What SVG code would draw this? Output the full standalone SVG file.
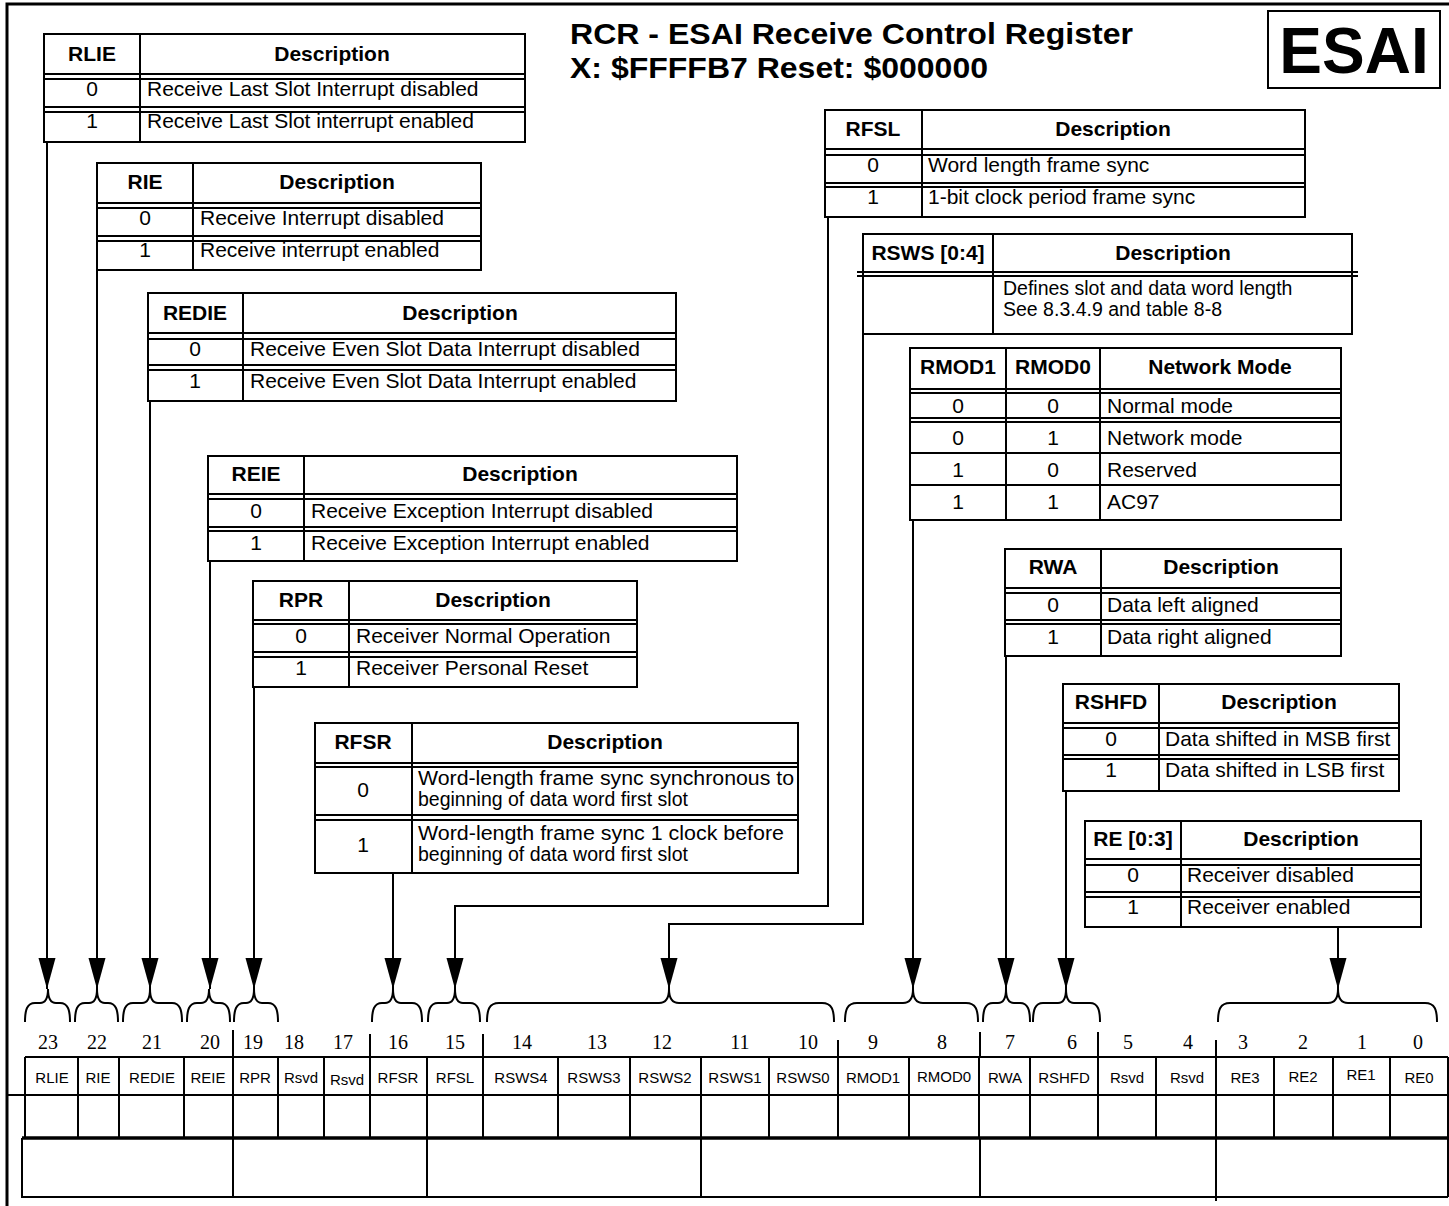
<svg xmlns="http://www.w3.org/2000/svg" width="1449" height="1206" viewBox="0 0 1449 1206">
<style>
.ln{fill:none;stroke:#000;stroke-width:2}
.fr{fill:none;stroke:#000;stroke-width:3}
.hd{font-family:"Liberation Sans",Arial,sans-serif;font-weight:bold;font-size:21px;fill:#000;text-anchor:middle}
.c{font-family:"Liberation Sans",Arial,sans-serif;font-size:21px;fill:#000;text-anchor:middle}
.tx{font-family:"Liberation Sans",Arial,sans-serif;font-size:21px;fill:#000}
.t2{font-family:"Liberation Sans",Arial,sans-serif;font-size:19.5px;fill:#000}
.nm{font-family:"Liberation Sans",Arial,sans-serif;font-size:15px;fill:#000;text-anchor:middle}
.bn{font-family:"Liberation Serif","Times New Roman",serif;font-size:20px;fill:#000;text-anchor:middle}
.ttl{font-family:"Liberation Sans",Arial,sans-serif;font-weight:bold;font-size:30px;fill:#000}
</style>
<defs>
<marker id="ah" markerUnits="userSpaceOnUse" markerWidth="32" markerHeight="20" viewBox="0 -9 32 18" refX="31" refY="0" orient="auto">
<path d="M0,-8.5L31,0L0,8.5z" fill="#000"/>
</marker>
</defs>
<rect width="1449" height="1206" fill="#fff"/>
<g id="frame">
<path class="fr" d="M7,1206V4H1449"/>
</g>
<g id="title">
<text class="ttl" x="570" y="44" textLength="563" lengthAdjust="spacingAndGlyphs">RCR - ESAI Receive Control Register</text>
<text class="ttl" x="570" y="78" textLength="418" lengthAdjust="spacingAndGlyphs">X: $FFFFB7 Reset: $000000</text>
</g>
<g id="esai">
<rect x="1268" y="11" width="172" height="77" class="ln"/>
<text x="1354" y="73" text-anchor="middle" font-family="Liberation Sans, Arial, sans-serif" font-weight="bold" font-size="64">ESAI</text>
</g>

<g id="tbl-rlie">
<rect x="44" y="34" width="481" height="108" class="ln"/>
<path class="ln" d="M44,74H525M44,79H525M44,107H525M44,112H525M140,34V142"/>
<text class="hd" x="92" y="61">RLIE</text><text class="hd" x="332" y="61">Description</text>
<text class="c" x="92" y="96">0</text><text class="tx" x="147" y="96">Receive Last Slot Interrupt disabled</text>
<text class="c" x="92" y="128">1</text><text class="tx" x="147" y="128">Receive Last Slot interrupt enabled</text>
</g>
<g id="tbl-rie">
<rect x="97" y="163" width="384" height="107" class="ln"/>
<path class="ln" d="M97,203H481M97,208H481M97,236H481M97,241H481M193,163V270"/>
<text class="hd" x="145" y="189">RIE</text><text class="hd" x="337" y="189">Description</text>
<text class="c" x="145" y="225">0</text><text class="tx" x="200" y="225">Receive Interrupt disabled</text>
<text class="c" x="145" y="257">1</text><text class="tx" x="200" y="257">Receive interrupt enabled</text>
</g>
<g id="tbl-redie">
<rect x="148" y="293" width="528" height="108" class="ln"/>
<path class="ln" d="M148,333H676M148,339H676M148,365H676M148,370H676M243,293V401"/>
<text class="hd" x="195" y="320">REDIE</text><text class="hd" x="460" y="320">Description</text>
<text class="c" x="195" y="356">0</text><text class="tx" x="250" y="356">Receive Even Slot Data Interrupt disabled</text>
<text class="c" x="195" y="388">1</text><text class="tx" x="250" y="388">Receive Even Slot Data Interrupt enabled</text>
</g>
<g id="tbl-reie">
<rect x="208" y="456" width="529" height="105" class="ln"/>
<path class="ln" d="M208,494H737M208,499H737M208,527H737M208,531H737M304,456V561"/>
<text class="hd" x="256" y="481">REIE</text><text class="hd" x="520" y="481">Description</text>
<text class="c" x="256" y="518">0</text><text class="tx" x="311" y="518">Receive Exception Interrupt disabled</text>
<text class="c" x="256" y="550">1</text><text class="tx" x="311" y="550">Receive Exception Interrupt enabled</text>
</g>
<g id="tbl-rpr">
<rect x="253" y="581" width="384" height="106" class="ln"/>
<path class="ln" d="M253,620H637M253,624H637M253,652H637M253,657H637M349,581V687"/>
<text class="hd" x="301" y="607">RPR</text><text class="hd" x="493" y="607">Description</text>
<text class="c" x="301" y="643">0</text><text class="tx" x="356" y="643">Receiver Normal Operation</text>
<text class="c" x="301" y="675">1</text><text class="tx" x="356" y="675">Receiver Personal Reset</text>
</g>
<g id="tbl-rfsr">
<rect x="315" y="723" width="483" height="150" class="ln"/>
<path class="ln" d="M315,763H798M315,767H798M315,815H798M315,820H798M412,723V873"/>
<text class="hd" x="363" y="749">RFSR</text><text class="hd" x="605" y="749">Description</text>
<text class="c" x="363" y="797">0</text>
<text class="t2" x="418" y="785" textLength="376" lengthAdjust="spacingAndGlyphs">Word-length frame sync synchronous to</text>
<text class="t2" x="418" y="806">beginning of data word first slot</text>
<text class="c" x="363" y="852">1</text>
<text class="t2" x="418" y="840" textLength="366" lengthAdjust="spacingAndGlyphs">Word-length frame sync 1 clock before</text>
<text class="t2" x="418" y="861">beginning of data word first slot</text>
</g>
<g id="tbl-rfsl">
<rect x="825" y="110" width="480" height="107" class="ln"/>
<path class="ln" d="M825,149H1305M825,155H1305M825,183H1305M825,187H1305M922,110V217"/>
<text class="hd" x="873" y="136">RFSL</text><text class="hd" x="1113" y="136">Description</text>
<text class="c" x="873" y="172">0</text><text class="tx" x="928" y="172">Word length frame sync</text>
<text class="c" x="873" y="204">1</text><text class="tx" x="928" y="204">1-bit clock period frame sync</text>
</g>
<g id="tbl-rsws">
<rect x="863" y="234" width="489" height="100" class="ln"/>
<path class="ln" d="M857,272H1358M857,276H1358M993,234V334"/>
<text class="hd" x="928" y="260">RSWS [0:4]</text><text class="hd" x="1173" y="260">Description</text>
<text class="t2" x="1003" y="295">Defines slot and data word length</text>
<text class="t2" x="1003" y="316">See 8.3.4.9 and table 8-8</text>
</g>
<g id="tbl-rmod">
<rect x="910" y="348" width="431" height="172" class="ln"/>
<path class="ln" d="M910,389H1341M910,393H1341M910,418H1341M910,422H1341M910,453H1341M910,485H1341M1006,348V520M1100,348V520"/>
<text class="hd" x="958" y="374">RMOD1</text><text class="hd" x="1053" y="374">RMOD0</text><text class="hd" x="1220" y="374">Network Mode</text>
<text class="c" x="958" y="413">0</text><text class="c" x="1053" y="413">0</text><text class="tx" x="1107" y="413">Normal mode</text>
<text class="c" x="958" y="445">0</text><text class="c" x="1053" y="445">1</text><text class="tx" x="1107" y="445">Network mode</text>
<text class="c" x="958" y="477">1</text><text class="c" x="1053" y="477">0</text><text class="tx" x="1107" y="477">Reserved</text>
<text class="c" x="958" y="509">1</text><text class="c" x="1053" y="509">1</text><text class="tx" x="1107" y="509">AC97</text>
</g>
<g id="tbl-rwa">
<rect x="1005" y="549" width="336" height="107" class="ln"/>
<path class="ln" d="M1005,588H1341M1005,593H1341M1005,620H1341M1005,624H1341M1101,549V656"/>
<text class="hd" x="1053" y="574">RWA</text><text class="hd" x="1221" y="574">Description</text>
<text class="c" x="1053" y="612">0</text><text class="tx" x="1107" y="612">Data left aligned</text>
<text class="c" x="1053" y="644">1</text><text class="tx" x="1107" y="644">Data right aligned</text>
</g>
<g id="tbl-rshfd">
<rect x="1063" y="684" width="336" height="107" class="ln"/>
<path class="ln" d="M1063,723H1399M1063,728H1399M1063,755H1399M1063,759H1399M1159,684V791"/>
<text class="hd" x="1111" y="709">RSHFD</text><text class="hd" x="1279" y="709">Description</text>
<text class="c" x="1111" y="746">0</text><text class="tx" x="1165" y="746">Data shifted in MSB first</text>
<text class="c" x="1111" y="777">1</text><text class="tx" x="1165" y="777">Data shifted in LSB first</text>
</g>
<g id="tbl-re">
<rect x="1085" y="821" width="336" height="106" class="ln"/>
<path class="ln" d="M1085,859H1421M1085,865H1421M1085,892H1421M1085,897H1421M1181,821V927"/>
<text class="hd" x="1133" y="846">RE [0:3]</text><text class="hd" x="1301" y="846">Description</text>
<text class="c" x="1133" y="882">0</text><text class="tx" x="1187" y="882">Receiver disabled</text>
<text class="c" x="1133" y="914">1</text><text class="tx" x="1187" y="914">Receiver enabled</text>
</g>

<g id="connectors">
<path class="ln" marker-end="url(#ah)" d="M47,142V989"/>
<path class="ln" marker-end="url(#ah)" d="M97,270V989"/>
<path class="ln" marker-end="url(#ah)" d="M150,401V989"/>
<path class="ln" marker-end="url(#ah)" d="M210,561V989"/>
<path class="ln" marker-end="url(#ah)" d="M254,687V989"/>
<path class="ln" marker-end="url(#ah)" d="M393,873V989"/>
<path class="ln" marker-end="url(#ah)" d="M828,217V906H455V989"/>
<path class="ln" marker-end="url(#ah)" d="M863,334V924H669V989"/>
<path class="ln" marker-end="url(#ah)" d="M913,520V989"/>
<path class="ln" marker-end="url(#ah)" d="M1006,656V989"/>
<path class="ln" marker-end="url(#ah)" d="M1066,791V989"/>
<path class="ln" marker-end="url(#ah)" d="M1338,927V989"/>
</g>

<g id="braces">
<path class="ln" d="M25,1022C25,1010 27,1003 35,1003L40,1003C45,1003 48,999 48,989C48,999 51,1003 56,1003L60,1003C68,1003 70,1010 70,1022"/>
<path class="ln" d="M75,1022C75,1010 77,1003 85,1003L89,1003C94,1003 97,999 97,989C97,999 100,1003 105,1003L108,1003C116,1003 118,1010 118,1022"/>
<path class="ln" d="M123,1022C123,1010 125,1003 133,1003L142,1003C147,1003 150,999 150,989C150,999 153,1003 158,1003L172,1003C180,1003 182,1010 182,1022"/>
<path class="ln" d="M187,1022C187,1010 189,1003 197,1003L201,1003C206,1003 209,999 209,989C209,999 212,1003 217,1003L220,1003C228,1003 230,1010 230,1022"/>
<path class="ln" d="M234,1022C234,1010 236,1003 244,1003L246,1003C251,1003 254,999 254,989C254,999 257,1003 262,1003L268,1003C276,1003 278,1010 278,1022"/>
<path class="ln" d="M372,1022C372,1010 374,1003 382,1003L385,1003C390,1003 393,999 393,989C393,999 396,1003 401,1003L412,1003C420,1003 422,1010 422,1022"/>
<path class="ln" d="M428,1022C428,1010 430,1003 438,1003L447,1003C452,1003 455,999 455,989C455,999 458,1003 463,1003L470,1003C478,1003 480,1010 480,1022"/>
<path class="ln" d="M487,1022C487,1010 489,1003 499,1003L659,1003C665,1003 669,999 669,989C669,999 673,1003 679,1003L822,1003C832,1003 834,1010 834,1022"/>
<path class="ln" d="M845,1022C845,1010 847,1003 857,1003L903,1003C909,1003 913,999 913,989C913,999 917,1003 923,1003L966,1003C976,1003 978,1010 978,1022"/>
<path class="ln" d="M983,1022C983,1010 985,1003 993,1003L998,1003C1003,1003 1006,999 1006,989C1006,999 1009,1003 1014,1003L1020,1003C1028,1003 1030,1010 1030,1022"/>
<path class="ln" d="M1033,1022C1033,1010 1035,1003 1043,1003L1058,1003C1063,1003 1066,999 1066,989C1066,999 1069,1003 1074,1003L1090,1003C1098,1003 1100,1010 1100,1022"/>
<path class="ln" d="M1218,1022C1218,1010 1220,1003 1230,1003L1328,1003C1334,1003 1338,999 1338,989C1338,999 1342,1003 1348,1003L1425,1003C1435,1003 1437,1010 1437,1022"/>
</g>

<g id="register">
<g id="bitnums">
<text class="bn" x="48" y="1049">23</text><text class="bn" x="97" y="1049">22</text><text class="bn" x="152" y="1049">21</text><text class="bn" x="210" y="1049">20</text>
<text class="bn" x="253" y="1049">19</text><text class="bn" x="294" y="1049">18</text><text class="bn" x="343" y="1049">17</text><text class="bn" x="398" y="1049">16</text>
<text class="bn" x="455" y="1049">15</text><text class="bn" x="522" y="1049">14</text><text class="bn" x="597" y="1049">13</text><text class="bn" x="662" y="1049">12</text>
<text class="bn" x="740" y="1049">11</text><text class="bn" x="808" y="1049">10</text><text class="bn" x="873" y="1049">9</text><text class="bn" x="942" y="1049">8</text>
<text class="bn" x="1010" y="1049">7</text><text class="bn" x="1072" y="1049">6</text><text class="bn" x="1128" y="1049">5</text><text class="bn" x="1188" y="1049">4</text>
<text class="bn" x="1243" y="1049">3</text><text class="bn" x="1303" y="1049">2</text><text class="bn" x="1362" y="1049">1</text><text class="bn" x="1418" y="1049">0</text>
</g>
<path class="ln" d="M233,1030V1057M370,1034V1057M483,1034V1057M838,1040V1057M980,1032V1057M1098,1032V1057M1216,1040V1057"/>
<path class="ln" d="M25,1057H1448M8,1095H1448M25,1057V1138M1448,1057V1197"/>
<path class="ln" d="M78,1057V1138M119,1057V1138M184,1057V1138M233,1057V1138M278,1057V1138M324,1057V1138M370,1057V1138M427,1057V1138M483,1057V1138M558,1057V1138M630,1057V1138M701,1057V1138M769,1057V1138M838,1057V1138M909,1057V1138M979,1057V1138M1030,1057V1138M1098,1057V1138M1156,1057V1138M1216,1057V1138M1274,1057V1138M1333,1057V1138M1390,1057V1138"/>
<path d="M22,1138H1448" stroke="#000" stroke-width="3.5" fill="none"/>
<path class="ln" d="M22,1138V1197H1448M233,1138V1197M427,1138V1197M701,1138V1197M980,1138V1197M1216,1138V1201"/>
<g id="names">
<text class="nm" x="52" y="1083">RLIE</text><text class="nm" x="98" y="1083">RIE</text><text class="nm" x="152" y="1083">REDIE</text><text class="nm" x="208" y="1083">REIE</text>
<text class="nm" x="255" y="1083">RPR</text><text class="nm" x="301" y="1083">Rsvd</text><text class="nm" x="347" y="1085">Rsvd</text><text class="nm" x="398" y="1083">RFSR</text>
<text class="nm" x="455" y="1083">RFSL</text><text class="nm" x="521" y="1083">RSWS4</text><text class="nm" x="594" y="1083">RSWS3</text><text class="nm" x="665" y="1083">RSWS2</text>
<text class="nm" x="735" y="1083">RSWS1</text><text class="nm" x="803" y="1083">RSWS0</text><text class="nm" x="873" y="1083">RMOD1</text><text class="nm" x="944" y="1082">RMOD0</text>
<text class="nm" x="1005" y="1083">RWA</text><text class="nm" x="1064" y="1083">RSHFD</text><text class="nm" x="1127" y="1083">Rsvd</text><text class="nm" x="1187" y="1083">Rsvd</text>
<text class="nm" x="1245" y="1083">RE3</text><text class="nm" x="1303" y="1082">RE2</text><text class="nm" x="1361" y="1080">RE1</text><text class="nm" x="1419" y="1083">RE0</text>
</g>
</g>
</svg>
